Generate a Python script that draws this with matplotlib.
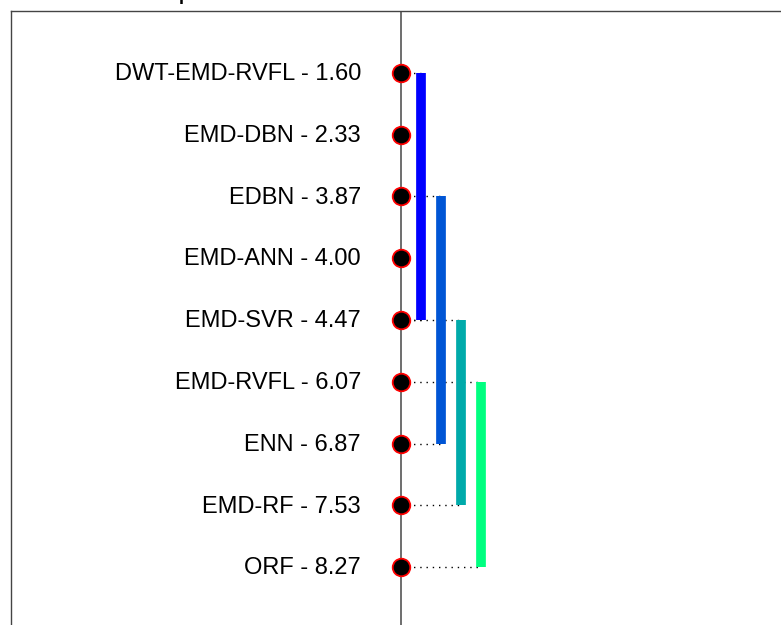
import matplotlib
matplotlib.use("Agg")
import matplotlib.pyplot as plt

plt.rcParams["font.family"] = ["Liberation Sans", "DejaVu Sans"]

# mean ranks per method, best first
methods = ["DWT-EMD-RVFL", "EMD-DBN", "EDBN", "EMD-ANN", "EMD-SVR",
           "EMD-RVFL", "ENN", "EMD-RF", "ORF"]
ranks = [1.60, 2.33, 3.87, 4.00, 4.47, 6.07, 6.87, 7.53, 8.27]

# groups not significantly different: (first row, last row)
cliques = [(0, 4), (2, 6), (4, 7), (5, 8)]
clique_colors = ["#0000FF", "#0055D5", "#00AAAA", "#00FF80"]

W, H = 781, 625
fig = plt.figure(figsize=(W / 100, H / 100), dpi=100)
ax = fig.add_axes([11 / W, -4 / H, 780 / W, 618 / H])

rows = list(range(len(methods)))
ax.set_xlim(-19.5, 19.5)
ax.set_ylim(len(methods), -1)

# central axis line
ax.axvline(0, color="#555555", lw=1.2, zorder=1)

# dotted connectors and clique bars
for k, ((a, b), col) in enumerate(zip(cliques, clique_colors)):
    xb = k + 1
    for r in (a, b):
        ax.plot([0, xb], [r, r], color="black", lw=1,
                linestyle=(0, (1, 3.5)), zorder=2)
    ax.vlines(xb, a, b, color=col, lw=7, capstyle="butt", zorder=3)

ax.scatter([0] * len(rows), rows, s=160, color="black",
           edgecolors="red", linewidths=1.3, zorder=4)

for r, name, rk in zip(rows, methods, ranks):
    ax.text(-2.0, r + 0.02, f"{name} - {rk:.2f}", ha="right", va="center",
            fontsize=17)

ax.set_xticks([])
ax.set_yticks([])
for side in ("left", "top"):
    ax.spines[side].set_color("#444444")
    ax.spines[side].set_linewidth(1)
for side in ("right", "bottom"):
    ax.spines[side].set_visible(False)

fig.text(179 / W, 1 - 0.5 / H, "post-hoc test ranks", ha="left",
         va="baseline", fontsize=13, fontweight="bold")

fig.savefig("out.png", dpi=100)
